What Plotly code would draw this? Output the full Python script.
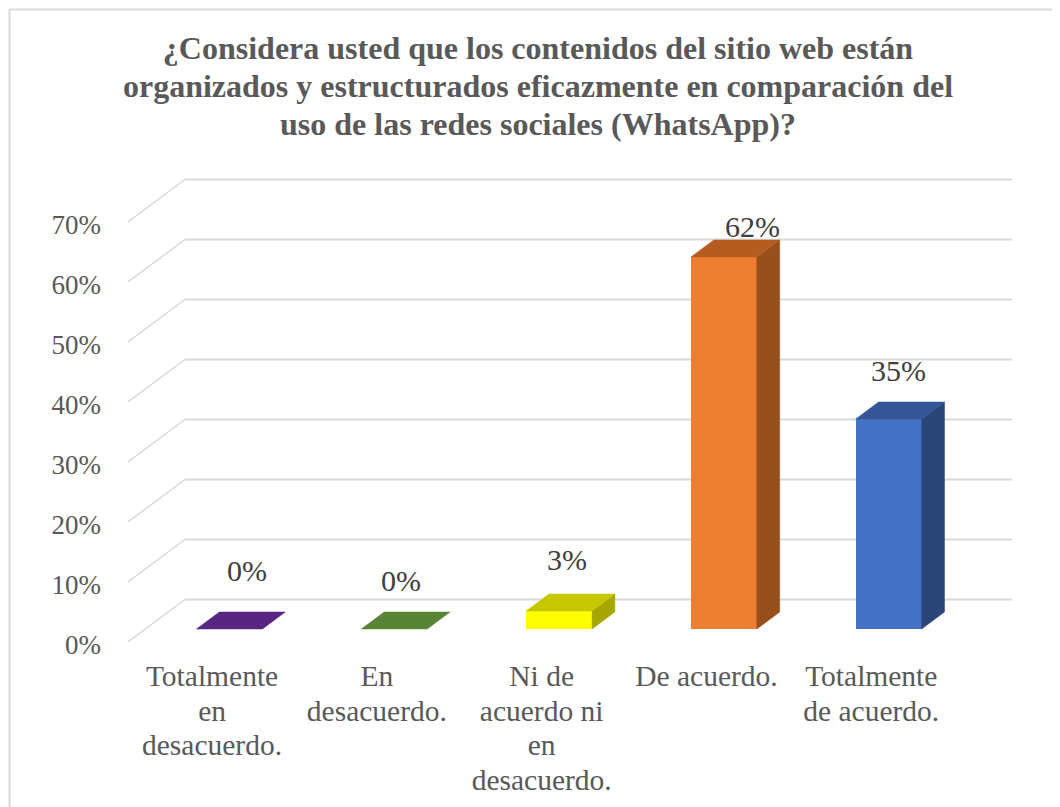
import plotly.graph_objects as go

title_lines = [
    "¿Considera usted que los contenidos del sitio web están",
    "organizados y estructurados eficazmente en comparación del",
    "uso de las redes sociales (WhatsApp)?",
]
category_lines = [
    ["Totalmente", "en", "desacuerdo."],
    ["En", "desacuerdo."],
    ["Ni de", "acuerdo ni", "en", "desacuerdo."],
    ["De acuerdo."],
    ["Totalmente", "de acuerdo."],
]
values = [0, 0, 3, 62, 35]
y_ticks = [0, 10, 20, 30, 40, 50, 60, 70]

front_colors = ["#582583", "#5a8435", "#ffff00", "#ed7d31", "#4472c4"]
top_colors = ["#582583", "#5a8435", "#c7c700", "#b55d20", "#345696"]
side_colors = ["#582583", "#5a8435", "#a6a600", "#974f1c", "#2a4578"]

# how far the value labels sit from the bar top, in pixels
label_shift_x = [6, -5, -4, 17, -2]
label_shift_y = [42, 32, 35, 14, 32]

FONT = "Liberation Serif"
GRID = "#d9d9d9"

# fake 3D: depth 0 is the front of the floor, depth 1 the back wall
DEPTH_X = 0.3459  # category units
DEPTH_Y = 7.08  # percent units
BAR_FRONT = 0.306
BAR_BACK = 0.706
BAR_WIDTH = 0.4
TICK_LABEL_DROP = 0.35  # y labels sit a little under their gridline


def project(x, y, depth):
    return x + depth * DEPTH_X, y + depth * DEPTH_Y


def sized(lines, size):
    # line spacing follows the outer font size, glyph size follows the span
    return "<br>".join(f'<span style="font-size:{size}px">{s}</span>' for s in lines)


def face(points, color):
    xs = [p[0] for p in points]
    ys = [p[1] for p in points]
    return go.Scatter(
        x=xs + xs[:1],
        y=ys + ys[:1],
        mode="lines",
        fill="toself",
        fillcolor=color,
        line=dict(color=color, width=0.5),
        hoverinfo="skip",
        showlegend=False,
    )


fig = go.Figure()

# front faces
bar_x = [i + BAR_FRONT * DEPTH_X for i in range(len(values))]
fig.add_trace(
    go.Bar(
        x=bar_x,
        y=values,
        base=BAR_FRONT * DEPTH_Y,
        width=BAR_WIDTH,
        marker=dict(color=front_colors, line=dict(width=0)),
        showlegend=False,
        hoverinfo="skip",
    )
)

# side and top faces
for i, v in enumerate(values):
    left = i - BAR_WIDTH / 2
    right = i + BAR_WIDTH / 2
    if v > 0:
        fig.add_trace(
            face(
                [
                    project(right, 0, BAR_FRONT),
                    project(right, v, BAR_FRONT),
                    project(right, v, BAR_BACK),
                    project(right, 0, BAR_BACK),
                ],
                side_colors[i],
            )
        )
    fig.add_trace(
        face(
            [
                project(left, v, BAR_FRONT),
                project(right, v, BAR_FRONT),
                project(right, v, BAR_BACK),
                project(left, v, BAR_BACK),
            ],
            top_colors[i],
        )
    )

# gridlines go below the bars, so they are shapes
x_start = -0.51
x_end = len(values) - 1 + 0.508
shapes = []
for t in y_ticks:
    bx, by = project(x_start, t, 1)
    ex, ey = project(x_end, t, 1)
    shapes.append(
        dict(type="line", x0=x_start, y0=t, x1=bx, y1=by, layer="below",
             line=dict(color=GRID, width=1.5))
    )
    shapes.append(
        dict(type="line", x0=bx, y0=by, x1=ex, y1=ey, layer="below",
             line=dict(color=GRID, width=2))
    )

# the page body has an 8px margin, so the figure starts at (8, 8)
W, H = 1052, 799
L, R, T, B = 120, 48, 162, 149
ZERO_PX = 634
plot_w = W - L - R
plot_h = H - T - B

# outer chart border, only the left and top edges are visible
border_x = (1.5 - L) / plot_w
border_y = (H - B - 1.5) / plot_h
shapes.append(
    dict(type="line", xref="paper", yref="paper", x0=border_x, x1=border_x,
         y0=border_y, y1=-1, line=dict(color=GRID, width=2))
)
shapes.append(
    dict(type="line", xref="paper", yref="paper", x0=border_x, x1=2,
         y0=border_y, y1=border_y, line=dict(color=GRID, width=2))
)

annotations = []
for i, v in enumerate(values):
    lx, ly = project(i, v, BAR_BACK)
    annotations.append(
        dict(
            x=lx,
            y=ly,
            text=f"{v}%",
            showarrow=False,
            xshift=label_shift_x[i] - 11,
            yshift=label_shift_y[i],
            font=dict(family=FONT, size=30, color="#404040"),
        )
    )

fig.update_layout(
    width=W,
    height=H,
    margin=dict(l=L, r=R, t=T, b=B, pad=0),
    paper_bgcolor="white",
    plot_bgcolor="white",
    title=dict(
        text=sized([f"<b>{s}</b>" for s in title_lines], 32),
        x=530 / W,
        xanchor="center",
        y=1 - 51 / H,
        yanchor="middle",
        font=dict(family=FONT, size=29.2, color="#595959"),
    ),
    shapes=shapes,
    annotations=annotations,
    bargap=0,
    xaxis=dict(
        range=[x_start, x_end + DEPTH_X],
        tickmode="array",
        tickvals=list(range(len(category_lines))),
        ticktext=[sized(lines, 29.5) for lines in category_lines],
        tickangle=0,
        tickfont=dict(family=FONT, size=26.8, color="#595959"),
        showgrid=False,
        zeroline=False,
        showline=False,
        ticks="",
    ),
    yaxis=dict(
        range=[(ZERO_PX - (H - B)) / 6, (ZERO_PX - T) / 6],
        tickmode="array",
        tickvals=[t - TICK_LABEL_DROP for t in y_ticks],
        ticktext=[f"{t}%" for t in y_ticks],
        tickfont=dict(family=FONT, size=27, color="#595959"),
        ticklabelstandoff=26,
        showgrid=False,
        zeroline=False,
        showline=False,
        ticks="",
    ),
)

fig.write_html("out.html")
